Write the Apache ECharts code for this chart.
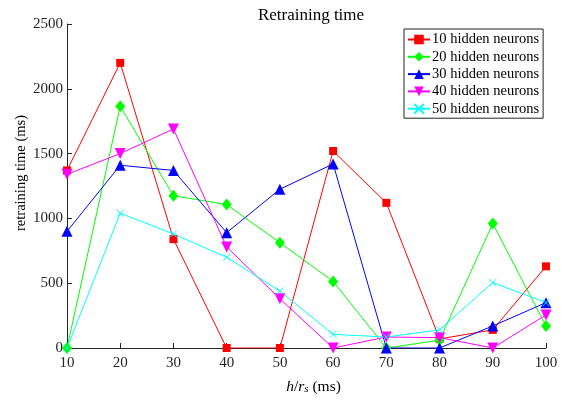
<!DOCTYPE html>
<html>
<head>
<meta charset="utf-8">
<script src="https://cdn.jsdelivr.net/npm/echarts@6/dist/echarts.min.js"></script>
<style>
  html, body { margin: 0; padding: 0; background: #fff; }
  #chart { width: 561px; height: 400px; }
</style>
</head>
<body>
<div id="chart"></div>
<script>
// Retraining time versus h/r_s for several hidden-layer sizes
const intervalsMs = [10, 20, 30, 40, 50, 60, 70, 80, 90, 100];
const neurons10 = [1370, 2200, 840, 0, 0, 1520, 1120, 70, 140, 630];
const neurons20 = [0, 1865, 1175, 1107, 813, 514, 0, 60, 960, 170];
const neurons30 = [900, 1410, 1370, 890, 1225, 1420, 0, 0, 170, 350];
const neurons40 = [1340, 1500, 1690, 780, 380, 0, 85, 80, 0, 255];
const neurons50 = [0, 1040, 880, 700, 440, 105, 85, 140, 505, 350];
const seriesNames = ['10 hidden neurons', '20 hidden neurons', '30 hidden neurons', '40 hidden neurons', '50 hidden neurons'];

const FONT = 'Liberation Serif';
const crossPath = 'path://M0,0 L10,10 M10,0 L0,10';

function pairs(vals) {
  return intervalsMs.map((x, i) => [x, vals[i]]);
}

function lineSeries(name, vals, color, symbol, size, extra) {
  return Object.assign({
    name: name,
    type: 'line',
    data: pairs(vals),
    symbol: symbol,
    symbolSize: size,
    showAllSymbol: true,
    lineStyle: { color: color, width: 1 },
    itemStyle: { color: color, borderColor: color, borderWidth: 0 },
    emphasis: { disabled: true },
    animation: false
  }, extra || {});
}

const chart = echarts.init(document.getElementById('chart'), null, { renderer: 'canvas' });
chart.setOption({
  backgroundColor: '#fff',
  title: {
    text: 'Retraining time',
    left: 306, top: 2, textAlign: 'center',
    textStyle: { fontFamily: FONT, fontSize: 17, fontWeight: 'normal', color: '#000' }
  },
  legend: {
    left: 404, top: 29,
    orient: 'vertical',
    data: seriesNames,
    itemWidth: 22, itemHeight: 12,
    itemGap: 2.3,
    padding: [3, 4, 2, 3],
    borderColor: '#222', borderWidth: 1,
    backgroundColor: '#fff',
    textStyle: { fontFamily: FONT, fontSize: 14.5, color: '#000', padding: [0, 0, 0, -3] }
  },
  grid: { left: 67, right: 15, top: 24, bottom: 47, containLabel: false },
  xAxis: {
    type: 'value', min: 10, max: 100, interval: 10,
    name: '{i|h}{n|/}{i|r}{s|s}{n| (ms)}',
    nameLocation: 'middle', nameGap: 30,
    nameMoveOverlap: false,
    nameTextStyle: {
      padding: [0, 0, 0, 14],
      rich: {
        i: { fontFamily: FONT, fontSize: 15.5, fontStyle: 'italic', color: '#000' },
        n: { fontFamily: FONT, fontSize: 15.5, color: '#000' },
        s: { fontFamily: FONT, fontSize: 11, fontStyle: 'italic', color: '#000', verticalAlign: 'bottom', padding: [6, 0, 0, 0] }
      }
    },
    axisLine: { lineStyle: { color: '#262626', width: 1 } },
    axisTick: { inside: true, length: 5, lineStyle: { color: '#262626' } },
    axisLabel: { fontFamily: FONT, fontSize: 15, color: '#262626', margin: 8 },
    splitLine: { show: false }
  },
  yAxis: {
    type: 'value', min: 0, max: 2500, interval: 500,
    name: 'retraining time (ms)',
    nameLocation: 'middle', nameGap: 38,
    nameMoveOverlap: false,
    nameTextStyle: { fontFamily: FONT, fontSize: 14.5, color: '#000', padding: [0, 0, 0, 26] },
    axisLine: { show: true, lineStyle: { color: '#262626', width: 1 } },
    axisTick: { show: true, inside: true, length: 5, lineStyle: { color: '#262626' } },
    axisLabel: { fontFamily: FONT, fontSize: 15, color: '#262626', margin: 4, formatter: v => String(v) },
    splitLine: { show: false }
  },
  series: [
    lineSeries(seriesNames[0], neurons10, '#ff0000', 'rect', 8),
    lineSeries(seriesNames[1], neurons20, '#00ff00', 'diamond', [10, 12]),
    lineSeries(seriesNames[2], neurons30, '#0000ff', 'triangle', 11),
    lineSeries(seriesNames[3], neurons40, '#ff00ff', 'triangle', 11, { symbolRotate: 180 }),
    lineSeries(seriesNames[4], neurons50, '#00ffff', crossPath, 7, {
      itemStyle: { color: '#00ffff', borderColor: '#00ffff', borderWidth: 1 }
    })
  ]
});
</script>
</body>
</html>
